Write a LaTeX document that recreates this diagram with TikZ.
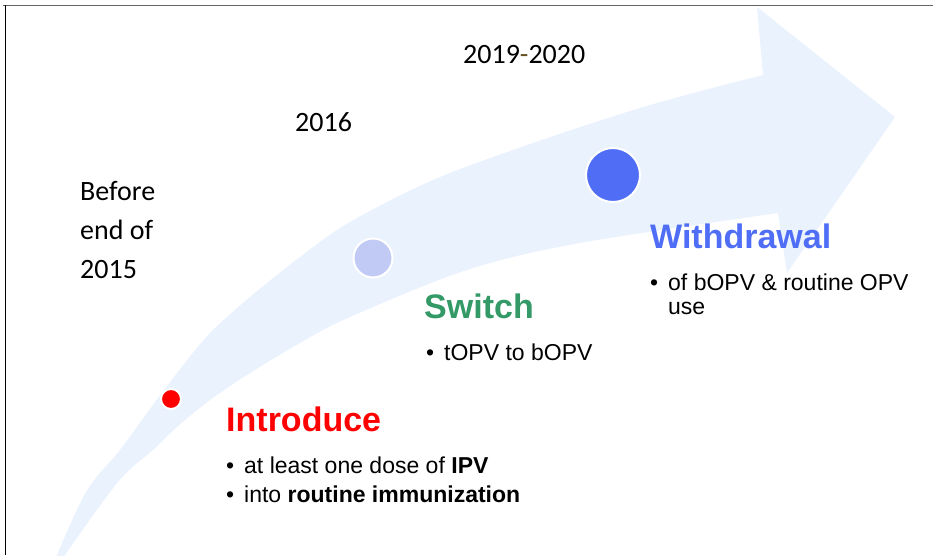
\documentclass[tikz,border=0pt]{standalone}
\usepackage{fontspec}
\setmainfont{Liberation Sans}
\newfontfamily\calibri{Carlito}
\definecolor{bandblue}{RGB}{234,242,254}
\definecolor{introred}{RGB}{255,0,0}
\definecolor{switchgreen}{RGB}{51,153,102}
\definecolor{switchdot}{RGB}{192,202,245}
\definecolor{withblue}{RGB}{79,110,245}
\definecolor{dashbrown}{RGB}{102,80,30}
\definecolor{framegray}{RGB}{100,100,100}
\tikzset{dot/.style = {circle, draw=white, line width=2, inner sep=0, minimum size=#1}}
\tikzset{year/.style = {font=\calibri\fontsize{28}{39}\selectfont, inner sep=0, anchor=base west, align=left}}
\tikzset{head/.style = {font=\bfseries\fontsize{34}{40}\selectfont, inner sep=0, anchor=base west}}
\tikzset{items/.style = {font=\fontsize{23}{#1}\selectfont, inner sep=0, anchor=base west, align=left}}
\newcommand{\itm}{\makebox[18pt][l]{\textbullet}}

\begin{document}
\begin{tikzpicture}[x=1pt, y=-1pt]
    \useasboundingbox (0,0) rectangle (933,555);
    \clip (0,0) rectangle (933,555);

    % the curved band (base of multi-line nodes = last line)
    \fill [bandblue] plot [smooth, tension=0.55] coordinates {(54,562) (86,492) (120,450) (147,413) (177,373) (210,333) (250,297) (300,257) (350,222) (433,180) (533,143) (650,105) (763,75)}
        -- (757,7) -- (895,117) -- (787,273) -- (778,213)
        -- plot [smooth, tension=0.55] coordinates {(778,213) (580,243) (467,270) (350,317) (300,343) (250,373) (210,400) (177,427) (153,450) (118,482) (60,562)}
        -- cycle;

    \draw [framegray, line width=1.5] (3,5.5) -- (933,5.5);
    \draw [black, line width=1.2] (5.5,5) -- (5.5,555);

    \node (introdot) [dot=20, fill=introred] at (171,399) {};
    \node (switchdot) [dot=39, fill=switchdot] at (373,258) {};
    \node (withdot) [dot=54, fill=withblue] at (613,175) {};

    \node (y15) [year] at (80,278) {Before\\end of\\2015};
    \node (y16) [year] at (295,131) {2016};
    \node (y19) [year] at (463,63) {2019{\color{dashbrown}-}2020};

    \node (intro) [head, introred] at (226,431) {Introduce};
    \node (introlist) [items=29] at (226,502) {\itm at least one dose of \textbf{IPV}\\\itm into \textbf{routine immunization}};

    \node (switch) [head, switchgreen] at (424,318) {Switch};
    \node (switchlist) [items=24] at (426,360) {\itm tOPV to bOPV};

    \node (withdr) [head, withblue] at (650,248) {Withdrawal};
    \node (withlist) [items=24] at (650,314) {\itm of bOPV \& routine OPV\\\hspace*{18pt}use};
  \end{tikzpicture}
\end{document}
